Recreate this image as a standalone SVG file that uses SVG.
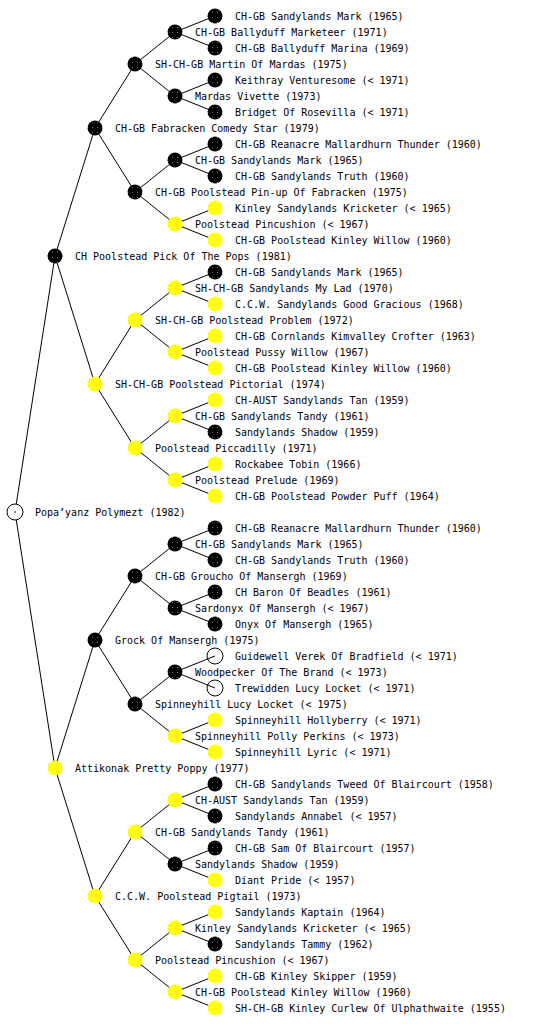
<svg xmlns="http://www.w3.org/2000/svg" width="560" height="1024" viewBox="0 0 560 1024">
<defs>
<pattern id="pb" width="5" height="5" patternUnits="userSpaceOnUse"><rect width="5" height="5" fill="#000"/><rect x="2" y="2" width="1" height="1" fill="#777"/></pattern>
<pattern id="py" width="5" height="5" patternUnits="userSpaceOnUse"><rect width="5" height="5" fill="#ffff00"/><rect x="2" y="2" width="1" height="1" fill="#ffffaa"/></pattern>
</defs>
<style>
.t{font-family:"DejaVu Sans Mono","Liberation Mono",monospace;font-size:10px;fill:#000}
.b{fill:url(#pb)}
.y{fill:url(#py)}
.e{fill:none;stroke:#000;stroke-width:1}
.r{fill:#fff;stroke:#000;stroke-width:1}
#connectors line{stroke:#000;stroke-width:1}
</style>
<rect width="560" height="1024" fill="#fff"/>
<g id="connectors">
<line x1="15" y1="512" x2="55" y2="256"/><line x1="15" y1="512" x2="55" y2="768"/>
<line x1="55" y1="256" x2="95" y2="128"/><line x1="55" y1="256" x2="95" y2="384"/>
<line x1="55" y1="768" x2="95" y2="640"/><line x1="55" y1="768" x2="95" y2="896"/>
<line x1="95" y1="128" x2="135" y2="64"/><line x1="95" y1="128" x2="135" y2="192"/>
<line x1="95" y1="384" x2="135" y2="320"/><line x1="95" y1="384" x2="135" y2="448"/>
<line x1="95" y1="640" x2="135" y2="576"/><line x1="95" y1="640" x2="135" y2="704"/>
<line x1="95" y1="896" x2="135" y2="832"/><line x1="95" y1="896" x2="135" y2="960"/>
<line x1="135" y1="64" x2="175" y2="32"/><line x1="135" y1="64" x2="175" y2="96"/>
<line x1="135" y1="192" x2="175" y2="160"/><line x1="135" y1="192" x2="175" y2="224"/>
<line x1="135" y1="320" x2="175" y2="288"/><line x1="135" y1="320" x2="175" y2="352"/>
<line x1="135" y1="448" x2="175" y2="416"/><line x1="135" y1="448" x2="175" y2="480"/>
<line x1="135" y1="576" x2="175" y2="544"/><line x1="135" y1="576" x2="175" y2="608"/>
<line x1="135" y1="704" x2="175" y2="672"/><line x1="135" y1="704" x2="175" y2="736"/>
<line x1="135" y1="832" x2="175" y2="800"/><line x1="135" y1="832" x2="175" y2="864"/>
<line x1="135" y1="960" x2="175" y2="928"/><line x1="135" y1="960" x2="175" y2="992"/>
<line x1="175" y1="32" x2="215" y2="16"/><line x1="175" y1="32" x2="215" y2="48"/>
<line x1="175" y1="96" x2="215" y2="80"/><line x1="175" y1="96" x2="215" y2="112"/>
<line x1="175" y1="160" x2="215" y2="144"/><line x1="175" y1="160" x2="215" y2="176"/>
<line x1="175" y1="224" x2="215" y2="208"/><line x1="175" y1="224" x2="215" y2="240"/>
<line x1="175" y1="288" x2="215" y2="272"/><line x1="175" y1="288" x2="215" y2="304"/>
<line x1="175" y1="352" x2="215" y2="336"/><line x1="175" y1="352" x2="215" y2="368"/>
<line x1="175" y1="416" x2="215" y2="400"/><line x1="175" y1="416" x2="215" y2="432"/>
<line x1="175" y1="480" x2="215" y2="464"/><line x1="175" y1="480" x2="215" y2="496"/>
<line x1="175" y1="544" x2="215" y2="528"/><line x1="175" y1="544" x2="215" y2="560"/>
<line x1="175" y1="608" x2="215" y2="592"/><line x1="175" y1="608" x2="215" y2="624"/>
<line x1="175" y1="672" x2="215" y2="656"/><line x1="175" y1="672" x2="215" y2="688"/>
<line x1="175" y1="736" x2="215" y2="720"/><line x1="175" y1="736" x2="215" y2="752"/>
<line x1="175" y1="800" x2="215" y2="784"/><line x1="175" y1="800" x2="215" y2="816"/>
<line x1="175" y1="864" x2="215" y2="848"/><line x1="175" y1="864" x2="215" y2="880"/>
<line x1="175" y1="928" x2="215" y2="912"/><line x1="175" y1="928" x2="215" y2="944"/>
<line x1="175" y1="992" x2="215" y2="976"/><line x1="175" y1="992" x2="215" y2="1008"/>
</g>
<g id="n0"><circle class="r" cx="15" cy="512" r="8"/><circle cx="15" cy="512" r="0.8" fill="#000"/><text class="t" x="35" y="516">Popa’yanz Polymezt (1982)</text></g>
<g id="n1"><circle class="b" cx="55" cy="256" r="7.5"/><text class="t" x="75" y="260">CH Poolstead Pick Of The Pops (1981)</text></g>
<g id="n2"><circle class="y" cx="55" cy="768" r="7.5"/><text class="t" x="75" y="772">Attikonak Pretty Poppy (1977)</text></g>
<g id="n3"><circle class="b" cx="95" cy="128" r="7.5"/><text class="t" x="115" y="132">CH-GB Fabracken Comedy Star (1979)</text></g>
<g id="n4"><circle class="y" cx="95" cy="384" r="7.5"/><text class="t" x="115" y="388">SH-CH-GB Poolstead Pictorial (1974)</text></g>
<g id="n5"><circle class="b" cx="95" cy="640" r="7.5"/><text class="t" x="115" y="644">Grock Of Mansergh (1975)</text></g>
<g id="n6"><circle class="y" cx="95" cy="896" r="7.5"/><text class="t" x="115" y="900">C.C.W. Poolstead Pigtail (1973)</text></g>
<g id="n7"><circle class="b" cx="135" cy="64" r="7.5"/><text class="t" x="155" y="68">SH-CH-GB Martin Of Mardas (1975)</text></g>
<g id="n8"><circle class="b" cx="135" cy="192" r="7.5"/><text class="t" x="155" y="196">CH-GB Poolstead Pin-up Of Fabracken (1975)</text></g>
<g id="n9"><circle class="y" cx="135" cy="320" r="7.5"/><text class="t" x="155" y="324">SH-CH-GB Poolstead Problem (1972)</text></g>
<g id="n10"><circle class="y" cx="135" cy="448" r="7.5"/><text class="t" x="155" y="452">Poolstead Piccadilly (1971)</text></g>
<g id="n11"><circle class="b" cx="135" cy="576" r="7.5"/><text class="t" x="155" y="580">CH-GB Groucho Of Mansergh (1969)</text></g>
<g id="n12"><circle class="b" cx="135" cy="704" r="7.5"/><text class="t" x="155" y="708">Spinneyhill Lucy Locket (&lt; 1975)</text></g>
<g id="n13"><circle class="y" cx="135" cy="832" r="7.5"/><text class="t" x="155" y="836">CH-GB Sandylands Tandy (1961)</text></g>
<g id="n14"><circle class="y" cx="135" cy="960" r="7.5"/><text class="t" x="155" y="964">Poolstead Pincushion (&lt; 1967)</text></g>
<g id="n15"><circle class="b" cx="175" cy="32" r="7.5"/><text class="t" x="195" y="36">CH-GB Ballyduff Marketeer (1971)</text></g>
<g id="n16"><circle class="b" cx="175" cy="96" r="7.5"/><text class="t" x="195" y="100">Mardas Vivette (1973)</text></g>
<g id="n17"><circle class="b" cx="175" cy="160" r="7.5"/><text class="t" x="195" y="164">CH-GB Sandylands Mark (1965)</text></g>
<g id="n18"><circle class="y" cx="175" cy="224" r="7.5"/><text class="t" x="195" y="228">Poolstead Pincushion (&lt; 1967)</text></g>
<g id="n19"><circle class="y" cx="175" cy="288" r="7.5"/><text class="t" x="195" y="292">SH-CH-GB Sandylands My Lad (1970)</text></g>
<g id="n20"><circle class="y" cx="175" cy="352" r="7.5"/><text class="t" x="195" y="356">Poolstead Pussy Willow (1967)</text></g>
<g id="n21"><circle class="y" cx="175" cy="416" r="7.5"/><text class="t" x="195" y="420">CH-GB Sandylands Tandy (1961)</text></g>
<g id="n22"><circle class="y" cx="175" cy="480" r="7.5"/><text class="t" x="195" y="484">Poolstead Prelude (1969)</text></g>
<g id="n23"><circle class="b" cx="175" cy="544" r="7.5"/><text class="t" x="195" y="548">CH-GB Sandylands Mark (1965)</text></g>
<g id="n24"><circle class="b" cx="175" cy="608" r="7.5"/><text class="t" x="195" y="612">Sardonyx Of Mansergh (&lt; 1967)</text></g>
<g id="n25"><circle class="b" cx="175" cy="672" r="7.5"/><text class="t" x="195" y="676">Woodpecker Of The Brand (&lt; 1973)</text></g>
<g id="n26"><circle class="y" cx="175" cy="736" r="7.5"/><text class="t" x="195" y="740">Spinneyhill Polly Perkins (&lt; 1973)</text></g>
<g id="n27"><circle class="y" cx="175" cy="800" r="7.5"/><text class="t" x="195" y="804">CH-AUST Sandylands Tan (1959)</text></g>
<g id="n28"><circle class="b" cx="175" cy="864" r="7.5"/><text class="t" x="195" y="868">Sandylands Shadow (1959)</text></g>
<g id="n29"><circle class="y" cx="175" cy="928" r="7.5"/><text class="t" x="195" y="932">Kinley Sandylands Kricketer (&lt; 1965)</text></g>
<g id="n30"><circle class="y" cx="175" cy="992" r="7.5"/><text class="t" x="195" y="996">CH-GB Poolstead Kinley Willow (1960)</text></g>
<g id="n31"><circle class="b" cx="215" cy="16" r="7.5"/><text class="t" x="235" y="20">CH-GB Sandylands Mark (1965)</text></g>
<g id="n32"><circle class="b" cx="215" cy="48" r="7.5"/><text class="t" x="235" y="52">CH-GB Ballyduff Marina (1969)</text></g>
<g id="n33"><circle class="b" cx="215" cy="80" r="7.5"/><text class="t" x="235" y="84">Keithray Venturesome (&lt; 1971)</text></g>
<g id="n34"><circle class="b" cx="215" cy="112" r="7.5"/><text class="t" x="235" y="116">Bridget Of Rosevilla (&lt; 1971)</text></g>
<g id="n35"><circle class="b" cx="215" cy="144" r="7.5"/><text class="t" x="235" y="148">CH-GB Reanacre Mallardhurn Thunder (1960)</text></g>
<g id="n36"><circle class="b" cx="215" cy="176" r="7.5"/><text class="t" x="235" y="180">CH-GB Sandylands Truth (1960)</text></g>
<g id="n37"><circle class="y" cx="215" cy="208" r="7.5"/><text class="t" x="235" y="212">Kinley Sandylands Kricketer (&lt; 1965)</text></g>
<g id="n38"><circle class="y" cx="215" cy="240" r="7.5"/><text class="t" x="235" y="244">CH-GB Poolstead Kinley Willow (1960)</text></g>
<g id="n39"><circle class="b" cx="215" cy="272" r="7.5"/><text class="t" x="235" y="276">CH-GB Sandylands Mark (1965)</text></g>
<g id="n40"><circle class="y" cx="215" cy="304" r="7.5"/><text class="t" x="235" y="308">C.C.W. Sandylands Good Gracious (1968)</text></g>
<g id="n41"><circle class="y" cx="215" cy="336" r="7.5"/><text class="t" x="235" y="340">CH-GB Cornlands Kimvalley Crofter (1963)</text></g>
<g id="n42"><circle class="y" cx="215" cy="368" r="7.5"/><text class="t" x="235" y="372">CH-GB Poolstead Kinley Willow (1960)</text></g>
<g id="n43"><circle class="y" cx="215" cy="400" r="7.5"/><text class="t" x="235" y="404">CH-AUST Sandylands Tan (1959)</text></g>
<g id="n44"><circle class="b" cx="215" cy="432" r="7.5"/><text class="t" x="235" y="436">Sandylands Shadow (1959)</text></g>
<g id="n45"><circle class="y" cx="215" cy="464" r="7.5"/><text class="t" x="235" y="468">Rockabee Tobin (1966)</text></g>
<g id="n46"><circle class="y" cx="215" cy="496" r="7.5"/><text class="t" x="235" y="500">CH-GB Poolstead Powder Puff (1964)</text></g>
<g id="n47"><circle class="b" cx="215" cy="528" r="7.5"/><text class="t" x="235" y="532">CH-GB Reanacre Mallardhurn Thunder (1960)</text></g>
<g id="n48"><circle class="b" cx="215" cy="560" r="7.5"/><text class="t" x="235" y="564">CH-GB Sandylands Truth (1960)</text></g>
<g id="n49"><circle class="b" cx="215" cy="592" r="7.5"/><text class="t" x="235" y="596">CH Baron Of Beadles (1961)</text></g>
<g id="n50"><circle class="b" cx="215" cy="624" r="7.5"/><text class="t" x="235" y="628">Onyx Of Mansergh (1965)</text></g>
<g id="n51"><circle class="e" cx="215" cy="656" r="8"/><text class="t" x="235" y="660">Guidewell Verek Of Bradfield (&lt; 1971)</text></g>
<g id="n52"><circle class="e" cx="215" cy="688" r="8"/><text class="t" x="235" y="692">Trewidden Lucy Locket (&lt; 1971)</text></g>
<g id="n53"><circle class="y" cx="215" cy="720" r="7.5"/><text class="t" x="235" y="724">Spinneyhill Hollyberry (&lt; 1971)</text></g>
<g id="n54"><circle class="y" cx="215" cy="752" r="7.5"/><text class="t" x="235" y="756">Spinneyhill Lyric (&lt; 1971)</text></g>
<g id="n55"><circle class="b" cx="215" cy="784" r="7.5"/><text class="t" x="235" y="788">CH-GB Sandylands Tweed Of Blaircourt (1958)</text></g>
<g id="n56"><circle class="b" cx="215" cy="816" r="7.5"/><text class="t" x="235" y="820">Sandylands Annabel (&lt; 1957)</text></g>
<g id="n57"><circle class="b" cx="215" cy="848" r="7.5"/><text class="t" x="235" y="852">CH-GB Sam Of Blaircourt (1957)</text></g>
<g id="n58"><circle class="y" cx="215" cy="880" r="7.5"/><text class="t" x="235" y="884">Diant Pride (&lt; 1957)</text></g>
<g id="n59"><circle class="y" cx="215" cy="912" r="7.5"/><text class="t" x="235" y="916">Sandylands Kaptain (1964)</text></g>
<g id="n60"><circle class="b" cx="215" cy="944" r="7.5"/><text class="t" x="235" y="948">Sandylands Tammy (1962)</text></g>
<g id="n61"><circle class="y" cx="215" cy="976" r="7.5"/><text class="t" x="235" y="980">CH-GB Kinley Skipper (1959)</text></g>
<g id="n62"><circle class="y" cx="215" cy="1008" r="7.5"/><text class="t" x="235" y="1012">SH-CH-GB Kinley Curlew Of Ulphathwaite (1955)</text></g>
</svg>
